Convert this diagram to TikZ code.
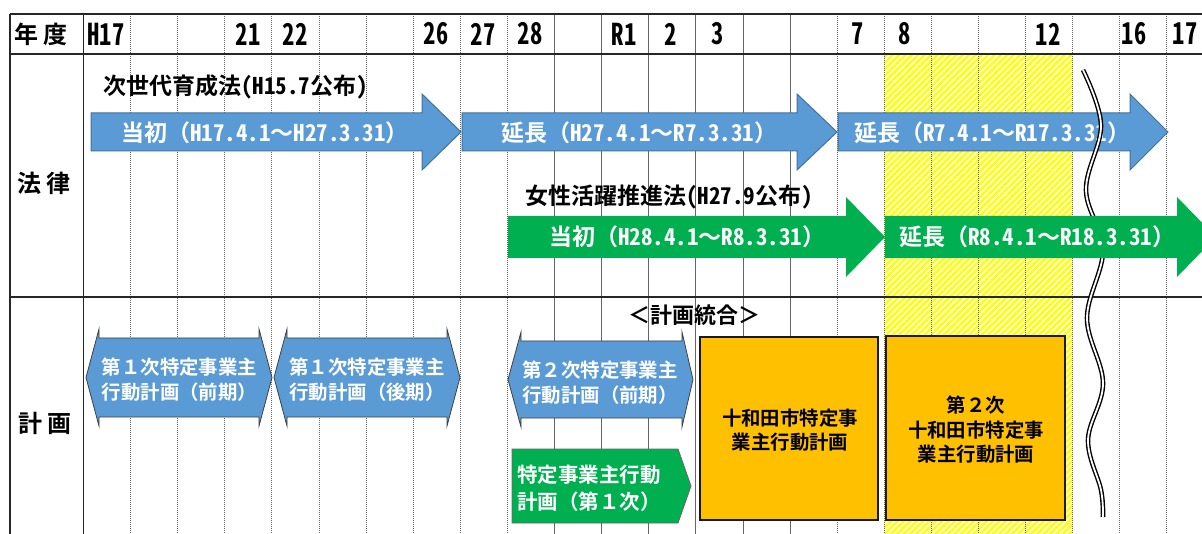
\documentclass[tikz,border=0pt]{standalone}
\usepackage{fontspec}
\setmainfont{Noto Sans CJK JP}[BoldFont={Noto Sans CJK JP Bold}]
\newfontfamily\hwfont{Noto Sans CJK JP}[BoldFont={Noto Sans CJK JP Bold},RawFeature=+hwid]
\newfontfamily\hdfont{Noto Sans CJK JP Bold}[FakeStretch=0.82,RawFeature=+hwid]
\newcommand{\hwtxt}[1]{{\hwfont #1}}
\usetikzlibrary{patterns.meta}
\definecolor{ablue}{HTML}{5B9BD5}
\definecolor{bblue}{HTML}{41719C}
\definecolor{agreen}{HTML}{00B050}
\definecolor{aorange}{HTML}{FFC000}
\definecolor{hyellow}{HTML}{FFFF00}
\begin{document}
\begin{tikzpicture}[x=1pt,y=-1pt,
  gridline/.style={line width=1.2pt, black!85},
  dotv/.style={line width=1pt, black!60, dash pattern=on 1pt off 1pt},
  solv/.style={line width=0.8pt, black!60},
  barrow/.style={fill=ablue, draw=bblue, line width=1pt},
  garrow/.style={fill=agreen},
  hexa/.style={fill=ablue, draw=black!75, line width=0.8pt},
  obox/.style={fill=aorange, draw=black!90, line width=1.3pt},
  wtxt/.style={text=white, font=\bfseries\fontsize{23}{25}\selectfont, inner sep=0pt},
  ptxt/.style={text=white, font=\bfseries\fontsize{19.4}{25}\selectfont, inner sep=0pt, align=center},
  btxt/.style={text=black, font=\bfseries\fontsize{19.4}{24.5}\selectfont, inner sep=0pt, align=center},
  lawlbl/.style={text=black, font=\bfseries\fontsize{23}{25}\selectfont, inner sep=0pt, anchor=west},
  rowlbl/.style={text=black, font=\bfseries\fontsize{24}{26}\selectfont, inner sep=0pt},
  yrlbl/.style={text=black, font=\hdfont\fontsize{30}{32}\selectfont, inner sep=0pt}
]
\useasboundingbox (0,0) rectangle (1202,534);
\fill[white] (0,0) rectangle (1202,534);
% hatched period
\fill[pattern={Lines[angle=45,distance=4.5pt,line width=2.6pt]}, pattern color=hyellow] (884.2,54) rectangle (1072.6,534);
% grid
\foreach \k in {1,...,9,16,17,...,24} \draw[dotv] ({83.5+47.1*\k},14) -- ({83.5+47.1*\k},534);
\foreach \k in {10,...,15} \draw[solv] ({83.5+47.1*\k},14) -- ({83.5+47.1*\k},534);
\draw[gridline] (10,14) -- (1202,14);
\draw[gridline] (10,54) -- (1202,54);
\draw[gridline] (10,297) -- (1202,297);
\draw[gridline] (10,14) -- (10,534);
\draw[gridline] (83.5,14) -- (83.5,534);
% header
\node[rowlbl] (nendo) at (41,34) {年\hspace{5pt}度};
\node[yrlbl] (y17) at (106,34) {H17};
\node[yrlbl] (y21) at (248,34) {21};
\node[yrlbl] (y22) at (295,34) {22};
\node[yrlbl] (y26) at (436,34) {26};
\node[yrlbl] (y27) at (483,34) {27};
\node[yrlbl] (y28) at (530,34) {28};
\node[yrlbl] (yr1) at (624,34) {R1};
\node[yrlbl] (yr2) at (671,34) {2};
\node[yrlbl] (yr3) at (718,34) {3};
\node[yrlbl] (yr7) at (858,34) {7};
\node[yrlbl] (yr8) at (905,34) {8};
\node[yrlbl] (yr12) at (1048,34) {12};
\node[yrlbl] (yr16) at (1134,34) {16};
\node[yrlbl] (yr17) at (1185,34) {17};
\node[rowlbl] (houritsu) at (44,183) {法\hspace{5pt}律};
\node[rowlbl] (keikaku) at (45,423) {計\hspace{5pt}画};
% law 1 (blue)
\node[lawlbl] (law1) at (103,87) {次世代育成法\hwtxt{(H15.7}公布\hwtxt{)}};
\path[barrow] (91,113) -- (422,113) -- (422,94) -- (461,132) -- (422,170) -- (422,151) -- (91,151) -- cycle;
\path[barrow] (462,113) -- (797,113) -- (797,94) -- (837,132) -- (797,170) -- (797,151) -- (462,151) -- cycle;
\path[barrow] (838,113) -- (1130,113) -- (1130,94) -- (1168,132) -- (1130,170) -- (1130,151) -- (838,151) -- cycle;
\node[wtxt] (b1) at (265,133) {当初（\hwtxt{H17.4.1}〜\hwtxt{H27.3.31}）};
\node[wtxt] (b2) at (639,133) {延長（\hwtxt{H27.4.1}〜\hwtxt{R7.3.31}）};
\node[wtxt] (b3) at (992,133) {延長（\hwtxt{R7.4.1}〜\hwtxt{R17.3.31}）};
% wave
\draw[line width=1.4pt, double=white, double distance=1.8pt, black]
  plot[smooth, tension=0.6] coordinates {(1083,70) (1101,125) (1086,190) (1103,250) (1087,318) (1103,383) (1088,440) (1101,490) (1103,517)};
% law 2 (green)
\node[lawlbl] (law2) at (525,197) {女性活躍推進法\hwtxt{(H27.9}公布\hwtxt{)}};
\path[garrow] (508,216) -- (846,216) -- (846,197) -- (885,237) -- (846,277) -- (846,258) -- (508,258) -- cycle;
\path[garrow] (885,216) -- (1177,216) -- (1177,197) -- (1216,237) -- (1177,277) -- (1177,258) -- (885,258) -- cycle;
\node[wtxt] (g1) at (687,237) {当初（\hwtxt{H28.4.1}〜\hwtxt{R8.3.31}）};
\node[wtxt] (g2) at (1037,237) {延長（\hwtxt{R8.4.1}〜\hwtxt{R18.3.31}）};
% plans
\path[hexa] (99,338) -- (259,338) -- (259,329) -- (272,377.5) -- (259,426) -- (259,417) -- (99,417) -- (99,426) -- (86,377.5) -- (99,329) -- cycle;
\path[hexa] (287,338) -- (447,338) -- (447,329) -- (460,377.5) -- (447,426) -- (447,417) -- (287,417) -- (287,426) -- (274,377.5) -- (287,329) -- cycle;
\path[hexa] (521,341) -- (682,341) -- (682,332) -- (693,379.5) -- (682,427) -- (682,418) -- (521,418) -- (521,427) -- (508,379.5) -- (521,332) -- cycle;
\node[ptxt] (p1) at (179.5,379.5) {第１次特定事業主\\行動計画（前期）};
\node[ptxt] (p2) at (367,379.5) {第１次特定事業主\\行動計画（後期）};
\node[ptxt] (p3) at (600,382.5) {第２次特定事業主\\行動計画（前期）};
\path[fill=agreen, draw=black!60, line width=0.8pt] (512,449) -- (678,449) -- (691,486) -- (678,523) -- (512,523) -- cycle;
\node[text=white, font=\bfseries\fontsize{20.5}{27}\selectfont, inner sep=0pt, align=center] (p4) at (589,488.5) {特定事業主行動\\計画（第１次）};
\node[font=\bfseries\fontsize{22}{24}\selectfont, inner sep=0pt] (merge) at (694.5,315) {＜計画統合＞};
\path[obox] (700,337) rectangle (878,520);
\path[obox] (886,336) rectangle (1065,520);
\node[btxt] (o1) at (790,430) {十和田市特定事\\業主行動計画};
\node[btxt] (o2) at (976,430) {第２次\\十和田市特定事\\業主行動計画};
\end{tikzpicture}
\end{document}
